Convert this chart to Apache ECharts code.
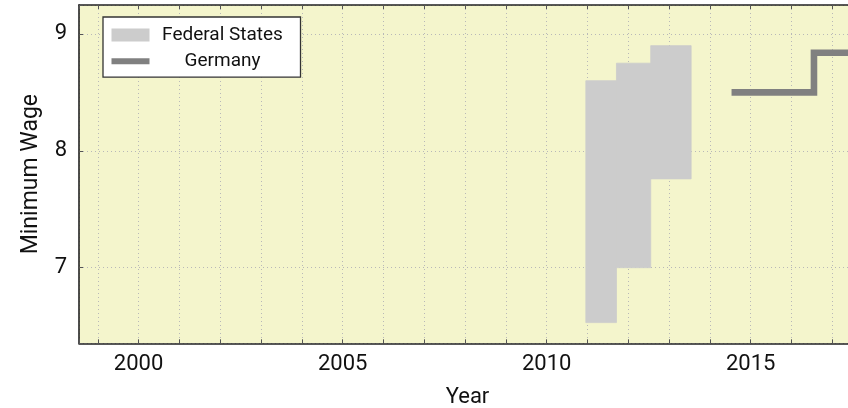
<!DOCTYPE html>
<html><head><meta charset="utf-8">
<script src="https://cdn.jsdelivr.net/npm/echarts@6/dist/echarts.min.js"></script>
<style>html,body{margin:0;padding:0;background:#fff}#c{width:848px;height:408px}</style>
</head><body><div id="c"></div>
<script>
// Federal States minimum-wage ranges (floating bars)
const stateStart = [2010.96, 2011.71, 2012.55];
const stateEnd   = [2011.71, 2012.55, 2013.54];
const stateLow   = [6.53, 7.00, 7.76];
const stateHigh  = [8.60, 8.75, 8.90];
// Germany national minimum wage (step line)
const germanyYears = [2014.53, 2016.55, 2018.00];
const germanyWage  = [8.50, 8.84, 8.84];
// Labelled ticks
const xLabelYears = [2000, 2005, 2010, 2015];
const yTickValues = [7, 8, 9];

const FONT = 'Roboto';
const stateData = stateStart.map((s, i) => [s, stateEnd[i], stateLow[i], stateHigh[i]]);
const germanyData = germanyYears.map((y, i) => [y, germanyWage[i]]);

const xMin = 1998.54, xMax = 2017.58, yMin = 6.353, yMax = 9.248;
const isInt = v => Math.abs(v - Math.round(v)) < 1e-6;

const chart = echarts.init(document.getElementById('c'), null, {renderer: 'canvas'});
chart.setOption({
  animation: false,
  textStyle: {fontFamily: FONT},
  grid: {left: 79, right: -8, top: 5, bottom: 64.7, show: true, backgroundColor: '#f4f5cc', borderWidth: 0,
    outerBoundsMode: 'none', containLabel: false},
  legend: {
    left: 103, top: 17, orient: 'vertical',
    padding: [8.4, 10, 6.5, 8.5],
    backgroundColor: '#ffffff', borderColor: '#333', borderWidth: 1.3, borderRadius: 0,
    itemWidth: 38, itemHeight: 13, itemGap: 7.3,
    symbolKeepAspect: true,
    data: [{name: 'Federal States', icon: 'rect'},
           {name: 'Germany', icon: 'path://M0,0 L38,0 L38,6 L0,6 Z'}],
    formatter: n => '{t|' + n + '}',
    textStyle: {fontFamily: FONT, color: '#111', fontSize: 19, lineHeight: 16,
      rich: {t: {width: 136, align: 'center', fontSize: 19, lineHeight: 16, fontFamily: FONT, color: '#111'}}}
  },
  xAxis: [{
    type: 'value', min: xMin, max: xMax, splitNumber: 19, position: 'bottom',
    name: 'Year', nameLocation: 'middle', nameGap: 43,
    nameTextStyle: {fontFamily: FONT, fontSize: 22, color: '#111'},
    axisLine: {show: true, onZero: false, lineStyle: {color: '#222', width: 1.6}},
    axisTick: {show: true, inside: true, length: 4, lineStyle: {color: '#555'}},
    axisLabel: {fontFamily: FONT, fontSize: 22, color: '#111', margin: 10,
      formatter: v => (isInt(v) && xLabelYears.includes(Math.round(v))) ? String(Math.round(v)) : ''},
    splitLine: {show: true, lineStyle: {color: '#b8b8b8', width: 1, type: [1, 3]}}
  }, {
    type: 'value', min: xMin, max: xMax, splitNumber: 19, position: 'top',
    axisLine: {show: true, onZero: false, lineStyle: {color: '#222', width: 1.6}},
    axisTick: {show: true, inside: true, length: 4, lineStyle: {color: '#555'}},
    axisLabel: {show: false}, splitLine: {show: false}
  }],
  yAxis: {
    type: 'value', min: yMin, max: yMax, splitNumber: 3,
    name: 'Minimum Wage', nameLocation: 'middle', nameGap: 36,
    nameTextStyle: {fontFamily: FONT, fontSize: 23, color: '#111'},
    axisLine: {show: true, onZero: false, lineStyle: {color: '#222', width: 1.6}},
    axisTick: {show: true, inside: true, length: 4, lineStyle: {color: '#555'}},
    axisLabel: {fontFamily: FONT, fontSize: 22, color: '#111', margin: 12,
      formatter: v => (isInt(v) && yTickValues.includes(Math.round(v))) ? String(Math.round(v)) : ''},
    splitLine: {show: true, lineStyle: {color: '#b8b8b8', width: 1, type: [1, 3]}}
  },
  series: [{
    name: 'Federal States', type: 'custom',
    itemStyle: {color: '#cccccc'},
    encode: {x: [0, 1], y: [2, 3]},
    data: stateData,
    renderItem: (params, api) => {
      const p0 = api.coord([api.value(0), api.value(3)]);
      const p1 = api.coord([api.value(1), api.value(2)]);
      return {type: 'rect',
        shape: {x: p0[0], y: p0[1], width: p1[0] - p0[0], height: p1[1] - p0[1]},
        style: {fill: '#cccccc', stroke: '#cccccc', lineWidth: 0.8}};
    }
  }, {
    name: 'Germany', type: 'line', step: 'end', showSymbol: false, symbol: 'none',
    data: germanyData,
    itemStyle: {color: '#808080'},
    lineStyle: {color: '#808080', width: 6.6, join: 'miter', cap: 'butt'}
  }]
});
</script></body></html>
